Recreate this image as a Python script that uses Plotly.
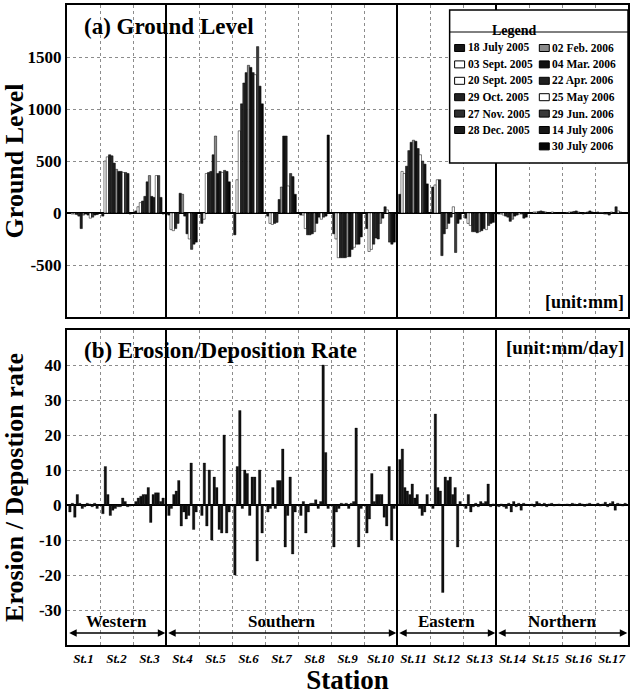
import plotly.graph_objects as go

# ---------------- data ----------------
stations = [f"St.{i}" for i in range(1, 18)]
dates = ["18 July 2005", "03 Sept. 2005", "20 Sept. 2005", "29 Oct. 2005",
         "27 Nov. 2005", "28 Dec. 2005", "02 Feb. 2006", "04 Mar. 2006",
         "22 Apr. 2006", "25 May 2006", "29 Jun. 2006", "14 July 2006",
         "30 July 2006"]

# ground level [mm] per station, one value per survey date
level_st1 = [-5, -10, -10, -15, -30, -150, -20, -10, -20, -50, -40, -20, -15]
level_st2 = [-30, 500, 540, 560, 550, 480, 420, 400, 400, 390, 390, 380, -10]
level_st3 = [20, 60, 100, 115, 160, 300, 360, 160, 150, 360, 360, 150, -10]
level_st4 = [-20, -160, -170, -150, -100, 190, 180, -30, -200, -250, -350, -300, -280]
level_st5 = [-100, -60, 380, 390, 400, 560, 740, 380, 400, 390, 410, 400, 300]
level_st6 = [-210, 320, 790, 1050, 1250, 1350, 1420, 1400, 1350, 1330, 1600, 1220, 1050]
level_st7 = [-30, -100, -110, -100, -90, 130, 250, 740, 740, 260, 380, 350, 180]
level_st8 = [-20, -20, -150, -210, -210, -200, -180, -100, -40, -60, -40, -30, 750]
level_st9 = [-200, -250, -430, -430, -430, -430, -420, -420, -350, -330, -300, -300, -230]
level_st10 = [-150, -370, -350, -300, -240, -250, -100, -50, 60, 30, -280, -300, -280]
level_st11 = [180, 400, 380, 450, 600, 680, 700, 690, 620, 560, 500, 470, 280]
level_st12 = [250, 270, 320, 320, -410, -200, -150, -100, -40, 60, -380, -100, -60]
level_st13 = [-50, -100, -120, -180, -180, -190, -180, -170, -150, -160, -120, -100, -90]
level_st14 = [-10, -10, -20, -30, -40, -80, -60, -30, -20, -10, -10, -50, -40]
level_st15 = [5, 10, 10, 15, 20, 15, 10, 5, 5, 10, 5, 0, 5]
level_st16 = [5, 5, 10, 10, 15, 20, 10, 5, -10, 5, 10, 20, 10]
level_st17 = [10, 5, 5, -10, -10, -20, 10, 5, 60, 20, 10, 5, 5]

# erosion / deposition rate [mm/day] per station, one value per interval
rate_st1 = [-2, 0.5, -3.5, 3, 0.5, -1, -0.5, 0.5, 0.3, -0.5, 0.5, -1]
rate_st2 = [-2.5, 11, 3, -3, -1.5, -1, -0.5, -0.5, 2, 1, -0.5, -0.3]
rate_st3 = [1, 2, 2.5, 3, 3, 5, -5, 3, 3.5, 3.5, 1, 2]
rate_st4 = [-3, -1, 3, 4, 7, -6, -2, -4, -3, 12, -7, -2]
rate_st5 = [-3, 12, -6, 10, -10, 8, 5, -7, -8, 20, -8, -2]
rate_st6 = [-20, 11, 27, -1, 10, 9, -3, 8, 8, -16, 10, -8]
rate_st7 = [-2, -1, 5, -1, 7, 7, 16, -12, -3, 8, -14, -2]
rate_st8 = [-3, 1, -8, -2, 0.5, 0.5, 1.5, -1, 1, 40, 15, -1]
rate_st9 = [-12, -2, -1, 0.5, 0.3, 0.5, -1, 0.5, 1, 22, -12, -1]
rate_st10 = [-8, -4, 9, 1, 3, 3, 3, -3.5, -6, 11, -10, -1]
rate_st11 = [13, 16, 5, 4, 3, 6, 2, 3, -1, -3, -2, 3]
rate_st12 = [-1, 26, 5, 4, -25, 8, 7, 8, 3, 5, -12, 1]
rate_st13 = [-1, 3, -2, -0.5, 0.5, -0.5, 1, 0.5, 1, 6, -0.5, 0.3]
rate_st14 = [-0.5, 0.3, -0.5, -1, 0.5, -2, 1, -0.5, 0.5, -1.5, 0.5, 0.2]
rate_st15 = [0.3, -0.5, 1, 0.5, -0.3, 0.5, -0.5, 0.3, 0.5, -0.3, 0.2, 0.3]
rate_st16 = [0.2, 0.3, -0.3, 0.5, 0.3, -0.2, 0.5, 0.3, -0.4, 0.3, 0.5, 0.2]
rate_st17 = [0.5, -0.3, 0.3, 0.8, -0.5, 0.5, 1, -1.5, 0.5, 0.3, -0.3, 0.5]

regions = ["Western", "Southern", "Eastern", "Northern"]
region_first = ["St.1", "St.4", "St.11", "St.14"]
region_last = ["St.3", "St.10", "St.13", "St.17"]

level_ticks = [-500, 0, 500, 1000, 1500]
rate_ticks = [-30, -20, -10, 0, 10, 20, 30, 40]

# ---------------- styling ----------------
date_colors = ["#151515", "#ffffff", "#ffffff", "#222222", "#2e2e2e", "#1c1c1c",
               "#8a8a8a", "#111111", "#202020", "#ffffff", "#3a3a3a", "#181818",
               "#050505"]
FONT = "Liberation Serif"

levels = [level_st1, level_st2, level_st3, level_st4, level_st5, level_st6,
          level_st7, level_st8, level_st9, level_st10, level_st11, level_st12,
          level_st13, level_st14, level_st15, level_st16, level_st17]
rates = [rate_st1, rate_st2, rate_st3, rate_st4, rate_st5, rate_st6,
         rate_st7, rate_st8, rate_st9, rate_st10, rate_st11, rate_st12,
         rate_st13, rate_st14, rate_st15, rate_st16, rate_st17]

W, H = 631, 695
ML, MR, MT, MB = 67, 1, 5, 50
PW, PH = W - ML - MR, H - MT - MB


def px2paper(px, py):
    return (px - ML) / PW, (H - MB - py) / PH


fig = go.Figure()

for k, d in enumerate(dates):
    fig.add_trace(go.Bar(
        x=stations, y=[lv[k] for lv in levels], name=d,
        marker=dict(color=date_colors[k], line=dict(color="black", width=0.5)),
        xaxis="x", yaxis="y", showlegend=False))

for k in range(len(dates) - 1):
    fig.add_trace(go.Bar(
        x=stations, y=[rt[k] for rt in rates],
        name=f"{dates[k]} - {dates[k + 1]}",
        marker=dict(color="#111111", line=dict(color="black", width=0.3)),
        xaxis="x2", yaxis="y2", showlegend=False))

grid = dict(showgrid=True, gridcolor="#8c8c8c", griddash="dot", gridwidth=1)
frame = dict(showline=True, linecolor="black", linewidth=2, mirror=True)

dom_a = [(H - MB - 317) / PH, 1.0]
dom_b = [0.0, (H - MB - 330) / PH]

fig.update_layout(
    width=W, height=H,
    margin=dict(l=ML, r=MR, t=MT, b=MB),
    paper_bgcolor="white", plot_bgcolor="white",
    barmode="group", bargap=0.1, bargroupgap=0,
    font=dict(family=FONT, color="black"),
    xaxis=dict(type="category", categoryorder="array", categoryarray=stations,
               range=[-0.5, 16.5], anchor="y", showticklabels=False,
               tickson="boundaries", ticks="", **grid, **frame),
    yaxis=dict(domain=dom_a, range=[-1000, 2000], anchor="x",
               tickvals=level_ticks, ticktext=[f"<b>{v}</b>" for v in level_ticks],
               tickfont=dict(size=17, family=FONT), ticks="",
               zeroline=True, zerolinecolor="black", zerolinewidth=2,
               title=dict(text="<b>Ground Level</b>", font=dict(size=26, family=FONT), standoff=0),
               **grid, **frame),
    xaxis2=dict(type="category", categoryorder="array", categoryarray=stations,
                range=[-0.5, 16.5], anchor="y2",
                tickvals=stations, ticktext=[f"<b><i>{s}</i></b>" for s in stations],
                tickfont=dict(size=13, family=FONT), ticks="", tickangle=0,
                tickson="boundaries",
                title=dict(text="<b>Station</b>", font=dict(size=27, family=FONT), standoff=2),
                **grid, **frame),
    yaxis2=dict(domain=dom_b, range=[-40, 50], anchor="x2",
                tickvals=rate_ticks, ticktext=[f"<b>{v}</b>" for v in rate_ticks],
                tickfont=dict(size=17, family=FONT), ticks="",
                zeroline=True, zerolinecolor="black", zerolinewidth=2,
                title=dict(text="<b>Erosion / Depostion rate</b>", font=dict(size=26, family=FONT), standoff=10),
                **grid, **frame),
)

shapes = []
annotations = []

# region divider lines in both panels
for r in range(1, len(regions)):
    bx = stations.index(region_first[r]) - 0.5
    for xa, ya in (("x", "y domain"), ("x2", "y2 domain")):
        shapes.append(dict(type="line", xref=xa, yref=ya, x0=bx, x1=bx, y0=0, y1=1,
                           line=dict(color="black", width=2)))

# region labels + double arrows in panel (b)
for name, a, b in zip(regions, region_first, region_last):
    x0 = stations.index(a) - 0.5
    x1 = stations.index(b) + 0.5
    annotations.append(dict(x=(x0 + x1) / 2, y=-33.3, xref="x2", yref="y2",
                            text=f"<b>{name}</b>", showarrow=False,
                            font=dict(size=17, family=FONT)))
    annotations.append(dict(x=x1 - 0.02, y=-36.6, ax=x0 + 0.02, ay=-36.6,
                            xref="x2", yref="y2", axref="x2", ayref="y2",
                            text="", showarrow=True, arrowside="end+start",
                            arrowhead=2, arrowsize=1, arrowwidth=1.5, arrowcolor="black"))

# panel titles and units
annotations += [
    dict(x=(82 - ML) / PW, y=(317 - 27) / 312, xref="x domain", yref="y domain",
         text="<b>(a) Ground Level</b>", showarrow=False, xanchor="left", yanchor="middle",
         font=dict(size=23, family=FONT)),
    dict(x=(628 - ML) / PW, y=(317 - 302) / 312, xref="x domain", yref="y domain",
         text="<b>[unit:mm]</b>", showarrow=False, xanchor="right", yanchor="middle",
         font=dict(size=18, family=FONT)),
    dict(x=(82 - ML) / PW, y=(645 - 350) / 315, xref="x2 domain", yref="y2 domain",
         text="<b>(b) Erosion/Deposition Rate</b>", showarrow=False, xanchor="left",
         yanchor="middle", font=dict(size=23, family=FONT)),
    dict(x=(628 - ML) / PW, y=(645 - 347) / 315, xref="x2 domain", yref="y2 domain",
         text="<b>[unit:mm/day]</b>", showarrow=False, xanchor="right", yanchor="middle",
         font=dict(size=19, family=FONT)),
]

# legend box (two columns) drawn inside panel (a)
bx0, by1 = px2paper(451, 10)
bx1, by0 = px2paper(630, 163)
shapes.append(dict(type="rect", xref="paper", yref="paper", x0=bx0, x1=bx1, y0=by0, y1=by1,
                   fillcolor="white", line=dict(color="black", width=1.5), layer="above"))
lx0, ly = px2paper(451, 32)
shapes.append(dict(type="line", xref="paper", yref="paper", x0=bx0, x1=bx1, y0=ly, y1=ly,
                   line=dict(color="black", width=1), layer="above"))
tx, ty = px2paper(541, 21)
annotations.append(dict(x=tx, y=ty, xref="paper", yref="paper", text="<b>Legend</b>",
                        showarrow=False, font=dict(size=14, family=FONT)))
n_col1 = 6
for k, d in enumerate(dates):
    col = 0 if k < n_col1 else 1
    row = k if k < n_col1 else k - n_col1
    sx = 456 if col == 0 else 541
    cy = 48 + 16.4 * row
    sx0, sy0 = px2paper(sx, cy + 3.5)
    sx1, sy1 = px2paper(sx + 10, cy - 3.5)
    shapes.append(dict(type="rect", xref="paper", yref="paper", x0=sx0, x1=sx1, y0=sy0, y1=sy1,
                       fillcolor=date_colors[k], line=dict(color="black", width=1), layer="above"))
    tpx, tpy = px2paper(sx + 11, cy)
    annotations.append(dict(x=tpx, y=tpy, xref="paper", yref="paper", text=f"<b>{d}</b>",
                            showarrow=False, xanchor="left", yanchor="middle",
                            font=dict(size=11.5, family=FONT)))

fig.update_layout(shapes=shapes, annotations=annotations)

fig.write_html("out.html", config={"displayModeBar": False},
               post_script="document.body.style.margin='0';"
               "document.body.style.overflow='hidden';")
